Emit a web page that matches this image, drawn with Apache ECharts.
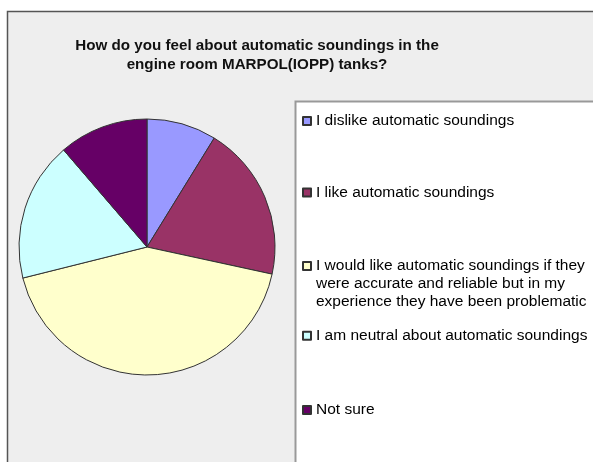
<!DOCTYPE html>
<html>
<head>
<meta charset="utf-8">
<script src="https://cdn.jsdelivr.net/npm/echarts@6/dist/echarts.min.js"></script>
<style>
html,body{margin:0;padding:0;background:#fff;}
#chart{width:593px;height:462px;}
</style>
</head>
<body>
<div id="chart"></div>
<script>
var titleText = 'How do you feel about automatic soundings in the\nengine room MARPOL(IOPP) tanks?';
var categories = [
  'I dislike automatic soundings',
  'I like automatic soundings',
  'I would like automatic soundings if they were accurate and reliable but in my experience they have been problematic',
  'I am neutral about automatic soundings',
  'Not sure'
];
var legendLabels = [
  'I dislike automatic soundings',
  'I like automatic soundings',
  'I would like automatic soundings if they\nwere accurate and reliable but in my\nexperience they have been problematic',
  'I am neutral about automatic soundings',
  'Not sure'
];
var values = [8.8, 19.6, 42.7, 17.6, 11.3];
var colors = ['#9999FF', '#993366', '#FFFFCC', '#CCFFFF', '#660066'];

var legendTops = [112, 183.5, 221, 326.7, 401];
var legends = categories.map(function (name, i) {
  var lines = legendLabels[i].split('\n').length;
  var prefix = '';
  for (var k = 1; k < lines; k++) prefix += '\n';
  return {
    data: [name],
    orient: 'vertical',
    left: 302,
    top: legendTops[i],
    padding: 0,
    itemWidth: 8,
    itemHeight: 8,
    icon: 'rect',
    selectedMode: false,
    formatter: function () { return prefix + legendLabels[i]; },
    textStyle: {
      fontFamily: 'Liberation Sans, Arial, sans-serif',
      fontSize: 15.5,
      lineHeight: 18,
      color: '#000'
    }
  };
});

var chart = echarts.init(document.getElementById('chart'), null, {renderer: 'canvas'});
chart.setOption({
  animation: false,
  backgroundColor: '#fff',
  color: colors,
  title: {
    text: titleText,
    left: 252,
    top: 32,
    textAlign: 'center',
    textStyle: {
      fontFamily: 'Liberation Sans, Arial, sans-serif',
      fontSize: 15.2,
      fontWeight: 'bold',
      lineHeight: 18.5,
      color: '#111'
    }
  },
  graphic: [
    {type: 'rect', z: -10, silent: true, shape: {x: 7.5, y: 11.5, width: 700, height: 600},
     style: {fill: '#EEEEEE', stroke: '#555', lineWidth: 1.5}},
    {type: 'rect', z: -9, silent: true, shape: {x: 295.5, y: 101.5, width: 400, height: 500},
     style: {fill: '#FFFFFF', stroke: '#999', lineWidth: 2}}
  ],
  legend: legends,
  series: [{
    type: 'pie',
    center: [147, 247],
    radius: 128,
    startAngle: 90,
    clockwise: true,
    label: {show: false},
    labelLine: {show: false},
    emphasis: {disabled: true},
    itemStyle: {borderColor: '#333', borderWidth: 1},
    data: categories.map(function (n, i) { return {name: n, value: values[i]}; })
  }]
});
</script>
</body>
</html>
